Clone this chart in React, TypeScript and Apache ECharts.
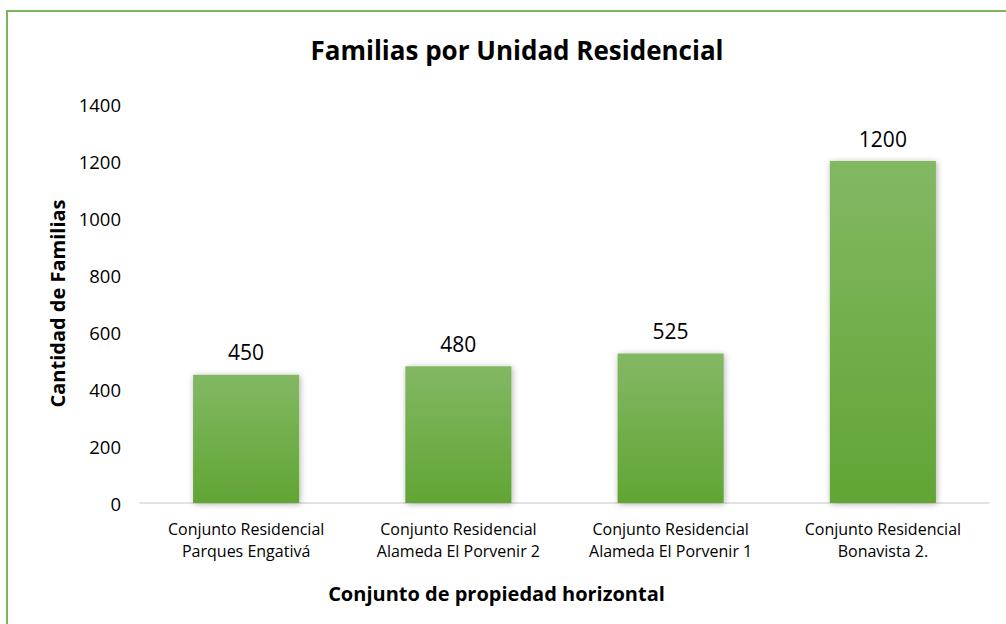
import React, { useEffect, useRef } from "react";
import * as echarts from "echarts";

const categories = [
  "Conjunto Residencial\nParques Engativá",
  "Conjunto Residencial\nAlameda El Porvenir 2",
  "Conjunto Residencial\nAlameda El Porvenir 1",
  "Conjunto Residencial\nBonavista 2.",
];
const familias = [450, 480, 525, 1200];

const FONT = "'Open Sans', sans-serif";

export default function App() {
  const ref = useRef<HTMLDivElement>(null);
  useEffect(() => {
    if (!ref.current) return;
    const chart = echarts.init(ref.current, null, { renderer: "svg" });
    chart.setOption({
      animation: false,
      backgroundColor: "#ffffff",
      title: {
        text: "Familias por Unidad Residencial",
        left: 512,
        textAlign: "center",
        top: 32,
        textStyle: { fontFamily: FONT, fontSize: 26, fontWeight: "bold", color: "#000" },
      },
      graphic: [
        {
          type: "rect",
          shape: { x: 7, y: 11, width: 1200, height: 800 },
          style: { fill: "none", stroke: "#7ab55c", lineWidth: 2 },
          silent: true,
        },
      ],
      grid: { left: 140, right: 17, top: 104, bottom: 121, containLabel: false },
      xAxis: {
        type: "category",
        data: categories,
        axisLine: { show: true, lineStyle: { color: "#d9d9d9", width: 1.5 } },
        axisTick: { show: false },
        axisLabel: { fontFamily: FONT, fontSize: 16, color: "#000", lineHeight: 22, margin: 15 },
        name: "Conjunto de propiedad horizontal",
        nameLocation: "middle",
        nameGap: 80,
        nameTextStyle: {
          fontFamily: FONT,
          fontSize: 20,
          fontWeight: "bold",
          color: "#000",
          padding: [0, 136, 0, 0],
        },
      },
      yAxis: {
        type: "value",
        min: 0,
        max: 1400,
        interval: 200,
        splitLine: { show: false },
        axisLine: { show: false },
        axisTick: { show: false },
        axisLabel: {
          fontFamily: FONT,
          fontSize: 18.5,
          color: "#000",
          margin: 19,
          formatter: (v: number) => String(v),
        },
        name: "Cantidad de Familias",
        nameLocation: "middle",
        nameGap: 72,
        nameTextStyle: { fontFamily: FONT, fontSize: 20, fontWeight: "bold", color: "#000" },
      },
      series: [
        {
          type: "bar",
          data: familias,
          barWidth: "50%",
          itemStyle: {
            color: new echarts.graphic.LinearGradient(0, 0, 0, 1, [
              { offset: 0, color: "#83b864" },
              { offset: 1, color: "#61a534" },
            ]),
            shadowBlur: 6,
            shadowColor: "rgba(0,0,0,0.3)",
            shadowOffsetX: 1,
            shadowOffsetY: 1,
          },
          label: {
            show: true,
            position: "top",
            distance: 12,
            fontFamily: FONT,
            fontSize: 21,
            color: "#000",
          },
        },
      ],
    });
    return () => chart.dispose();
  }, []);
  return (
    <div
      ref={ref}
      style={{ position: "absolute", left: 0, top: 0, width: 1006, height: 624 }}
    />
  );
}
